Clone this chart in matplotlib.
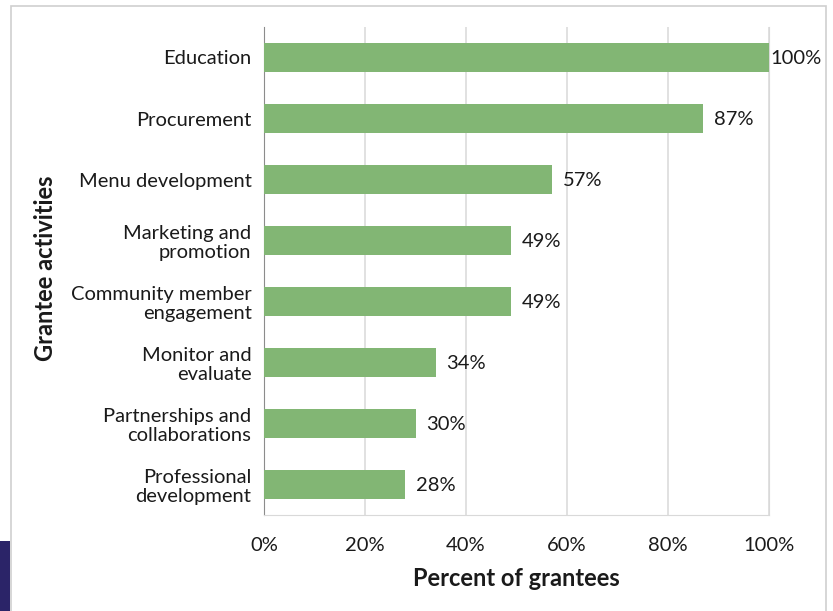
import matplotlib
matplotlib.use("Agg")
import matplotlib.pyplot as plt
from matplotlib.patches import Rectangle
from matplotlib.ticker import FuncFormatter

activities = [
    "Education",
    "Procurement",
    "Menu development",
    "Marketing and\npromotion",
    "Community member\nengagement",
    "Monitor and\nevaluate",
    "Partnerships and\ncollaborations",
    "Professional\ndevelopment",
]
percent = [100, 87, 57, 49, 49, 34, 30, 28]
x_ticks = [0, 20, 40, 60, 80, 100]

plt.rcParams["font.family"] = ["Lato", "DejaVu Sans"]

W, H = 833, 611
fig = plt.figure(figsize=(W / 100, H / 100), dpi=100)

# outer frame and side accent
fig.patches.append(Rectangle((11 / W, -0.1), 815 / W, 1.1 - 6 / H, transform=fig.transFigure,
                             fill=False, edgecolor="#cfcfcf", linewidth=1.2))
fig.patches.append(Rectangle((0, 0), 10 / W, 70 / H, transform=fig.transFigure,
                             facecolor="#2b2468", edgecolor="none"))

left, right, top, bottom = 264, 769, 27, 515
ax = fig.add_axes([left / W, 1 - bottom / H, (right - left) / W, (bottom - top) / H])

y = list(range(len(activities)))
ax.barh(y, percent, height=0.49, color="#82b674", zorder=3)
ax.set_xlim(0, 100)
ax.set_ylim(len(activities) - 0.5, -0.5)
ax.set_yticks(y)
ax.set_yticklabels(activities, fontsize=14.5, color="#1a1a1a", linespacing=1.12)
ax.set_xticks(x_ticks)
ax.xaxis.set_major_formatter(FuncFormatter(lambda v, p: f"{v:.0f}%"))
ax.tick_params(axis="x", labelsize=14.5, colors="#1a1a1a", length=0, pad=16)
ax.tick_params(axis="y", length=0, pad=9)
ax.grid(axis="x", color="#d9d9d9", linewidth=1.1, zorder=0)

ax.spines["top"].set_visible(False)
ax.spines["right"].set_color("#d9d9d9")
ax.spines["bottom"].set_color("#d9d9d9")
ax.spines["left"].set_color("#8c8c8c")

# value labels at the end of each bar
for yi, v in zip(y, percent):
    off = 0.2 if v >= 100 else 2.1
    ax.text(v + off, yi + 0.02, f"{v}%", va="center", ha="left", fontsize=14.5,
            color="#1a1a1a", zorder=4, clip_on=False)

ax.set_xlabel("Percent of grantees", fontsize=17, fontweight="bold", color="#1a1a1a")
ax.xaxis.set_label_coords(0.5, (bottom - 578) / (bottom - top))
ax.xaxis.label.set_va("center")
ax.set_ylabel("Grantee activities", fontsize=17, fontweight="bold", color="#1a1a1a")
ax.yaxis.set_label_coords((46 - left) / (right - left), (bottom - 268) / (bottom - top))
ax.yaxis.label.set_va("center")

fig.savefig("out.png", dpi=100)
